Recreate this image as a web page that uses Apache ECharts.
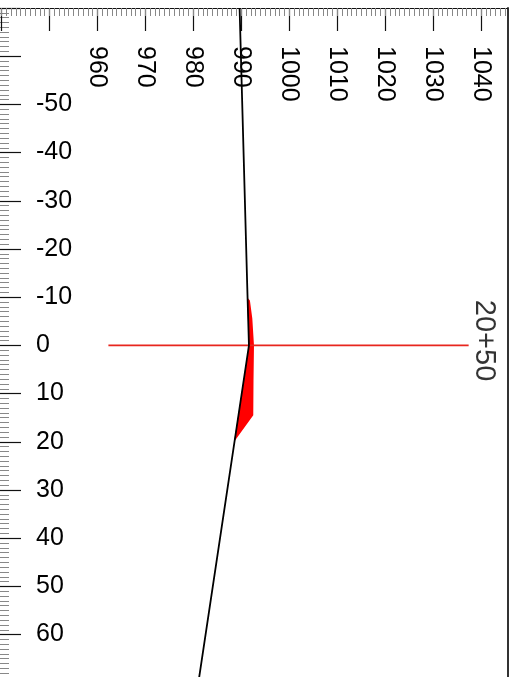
<!DOCTYPE html>
<html>
<head>
<meta charset="utf-8">
<script src="https://cdn.jsdelivr.net/npm/echarts@6/dist/echarts.min.js"></script>
<style>
  html, body { margin: 0; padding: 0; background: #fff; }
  #chart { width: 515px; height: 677px; }
</style>
</head>
<body>
<div id="chart"></div>
<script>
// ticks / labels
const elevTicks = [940, 950, 960, 970, 980, 990, 1000, 1010, 1020, 1030, 1040]
const elevLabels = [960, 970, 980, 990, 1000, 1010, 1020, 1030, 1040]
const offsetLabels = [-50, -40, -30, -20, -10, 0, 10, 20, 30, 40, 50, 60]
// minor ruler marks every 1 unit
const elevMinor = []
for (let v = 940; v <= 1045; v++) elevMinor.push(v)

// ground profile (elevation, offset)
const profileElev = [989.65, 991.25, 991.6, 981.05]
const profileOffset = [-70, -12, 0, 70]

// red fill
const fillElev = [991.2, 991.8, 992.3, 992.65, 992.55, 992.5, 988.5, 991.6]
const fillOffset = [-10, -9.3, -5.6, 0, 7.3, 14.5, 20, 0]

// station line
const stationElev = [962.3, 1037.4]
const stationOffset = [0, 0]
const stationName = '20+50'
const stationLabelAt = [1040.6, -1]

const font = 'Liberation Sans, Arial, sans-serif'
const chart = echarts.init(document.getElementById('chart'))

const pairs = (xs, ys) => xs.map((x, i) => [x, ys[i]])

chart.setOption({
  animation: false,
  backgroundColor: '#fff',
  grid: { left: 0, right: 7.5, top: 8, bottom: -5.8, containLabel: false, outerBoundsMode: 'none' },
  xAxis: [{
    type: 'value',
    position: 'top',
    min: 939.7,
    max: 1045.5,
    axisLine: { show: true, onZero: false, lineStyle: { color: '#111', width: 1 } },
    axisTick: { inside: true, length: 23, customValues: elevTicks, lineStyle: { color: '#111', width: 1.2 } },
    axisLabel: {
      inside: true, rotate: 90, margin: 38, customValues: elevLabels,
      formatter: v => String(v),
      fontSize: 25, color: '#000', fontFamily: font
    },
    splitLine: { show: false }
  }, {
    type: 'value',
    position: 'top',
    min: 939.7,
    max: 1045.5,
    axisLine: { show: false, onZero: false },
    axisTick: { inside: true, length: 8, customValues: elevMinor, lineStyle: { color: '#888', width: 1 } },
    axisLabel: { show: false },
    splitLine: { show: false }
  }],
  yAxis: [{
    type: 'value',
    inverse: true,
    position: 'left',
    min: -70,
    max: 70,
    interval: 10,
    axisLine: { show: false, onZero: false },
    axisTick: { inside: true, length: 21, lineStyle: { color: '#111', width: 1.2 } },
    minorTick: { show: true, splitNumber: 10, length: 9, lineStyle: { color: '#888', width: 1 } },
    axisLabel: {
      inside: true, margin: 36, customValues: offsetLabels,
      fontSize: 25, color: '#000', fontFamily: font
    },
    splitLine: { show: false }
  }, {
    type: 'value',
    position: 'right',
    inverse: true,
    min: -70,
    max: 70,
    axisLine: { show: true, onZero: false, lineStyle: { color: '#333', width: 2 } },
    axisTick: { show: false },
    axisLabel: { show: false },
    splitLine: { show: false }
  }],
  series: [{
    type: 'custom',
    xAxisIndex: 0,
    yAxisIndex: 0,
    data: pairs(fillElev, fillOffset),
    encode: { x: 0, y: 1 },
    renderItem: function (params, api) {
      if (params.dataIndex !== 0) return
      const pts = fillElev.map((e, i) => api.coord([e, fillOffset[i]]))
      return { type: 'polygon', shape: { points: pts }, style: { fill: '#ff0000' } }
    },
    z: 2
  }, {
    type: 'line',
    xAxisIndex: 0,
    yAxisIndex: 0,
    data: pairs(stationElev, stationOffset),
    symbol: 'none',
    lineStyle: { color: '#e8261e', width: 1.8 },
    z: 3
  }, {
    type: 'line',
    xAxisIndex: 0,
    yAxisIndex: 0,
    data: pairs(profileElev, profileOffset),
    symbol: 'none',
    lineStyle: { color: '#000', width: 1.8 },
    z: 4
  }, {
    type: 'scatter',
    xAxisIndex: 0,
    yAxisIndex: 0,
    data: [stationLabelAt],
    symbolSize: 0,
    label: {
      show: true, position: 'inside', rotate: -90, formatter: stationName,
      fontSize: 29, color: '#000', fontFamily: font
    },
    z: 5
  }]
})
</script>
</body>
</html>
